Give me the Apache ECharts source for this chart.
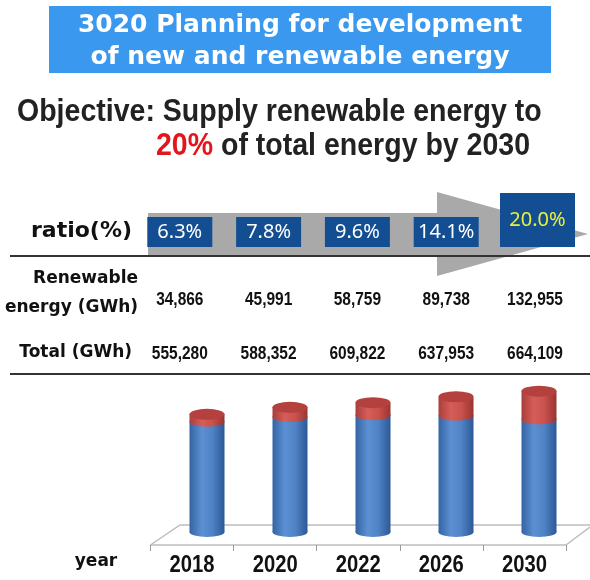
<!DOCTYPE html>
<html>
<head>
<meta charset="utf-8">
<script src="https://cdn.jsdelivr.net/npm/echarts@6/dist/echarts.min.js"></script>
<style>html,body{margin:0;padding:0;background:#fff}#c{width:590px;height:580px}</style>
</head>
<body>
<div id="c"></div>
<script>
// ---- data ----
var years = ['2018', '2020', '2022', '2026', '2030'];
var ratios = [6.3, 7.8, 9.6, 14.1, 20.0];
var renewable = [34866, 45991, 58759, 89738, 132955];
var total = [555280, 588352, 609822, 637953, 664109];

var nonRenewable = total.map(function (t, i) { return t - renewable[i]; });
function fmt(n) { return n.toLocaleString('en-US'); }

var SANS = '"Liberation Sans", Arial, sans-serif';
var HEAVY = '"DejaVu Sans", sans-serif';

var chart = echarts.init(document.getElementById('c'), null, { renderer: 'canvas' });

var blueGrad = new echarts.graphic.LinearGradient(0, 0, 1, 0, [
  { offset: 0, color: '#3363a3' },
  { offset: 0.35, color: '#5c90d2' },
  { offset: 0.65, color: '#4f83c5' },
  { offset: 1, color: '#2d5896' }
]);
var redGrad = new echarts.graphic.LinearGradient(0, 0, 1, 0, [
  { offset: 0, color: '#a83e3b' },
  { offset: 0.35, color: '#d65d58' },
  { offset: 0.65, color: '#c9524e' },
  { offset: 1, color: '#9a3431' }
]);

var BW = 35;

function condensedText(txt, x, y, font, fill, sx, align) {
  return {
    type: 'text', x: x, y: y, scaleX: sx, scaleY: 1,
    style: { text: txt, x: 0, y: 0, align: align || 'center', verticalAlign: 'middle', fill: fill, font: font }
  };
}

var option = {
  backgroundColor: '#ffffff',
  animation: false,
  grid: [
    { left: 165.5, right: 9.5, top: 383.6, bottom: 48 },
    { left: 150.5, right: 24, top: 500, bottom: 35 },
    { left: 135.4, right: 10.6, top: 190, bottom: 200 }
  ],
  xAxis: [
    { type: 'category', gridIndex: 0, data: years, show: false },
    {
      type: 'category', gridIndex: 1, data: years,
      axisLine: { show: true, lineStyle: { color: '#bdbdbd', width: 1.5 } },
      axisTick: { show: true, length: 6, lineStyle: { color: '#9a9a9a' } },
      axisLabel: { show: false }
    },
    { type: 'category', gridIndex: 2, data: years, show: false }
  ],
  yAxis: [
    { type: 'value', gridIndex: 0, min: 0, max: 700000, show: false },
    { type: 'value', gridIndex: 1, min: 0, max: 1, show: false },
    { type: 'value', gridIndex: 2, min: 0, max: 1, show: false }
  ],
  graphic: [
    { type: 'rect', shape: { x: 49, y: 6, width: 502, height: 67 }, style: { fill: '#3a98ee' }, z: 0 },
    { type: 'text', style: { text: '3020 Planning for development', x: 300, y: 25, align: 'center', verticalAlign: 'middle', fill: '#fff', font: 'bold 25px ' + HEAVY }, z: 1 },
    { type: 'text', style: { text: 'of new and renewable energy', x: 300, y: 57, align: 'center', verticalAlign: 'middle', fill: '#fff', font: 'bold 25px ' + HEAVY }, z: 1 },
    { type: 'text', x: 17, y: 112, scaleX: 0.92, style: { text: 'Objective: Supply renewable energy to', x: 0, y: 0, align: 'left', verticalAlign: 'middle', fill: '#222', font: 'bold 31px ' + SANS }, z: 1 },
    { type: 'text', x: 156, y: 146, scaleX: 0.92, style: { text: '20%', x: 0, y: 0, align: 'left', verticalAlign: 'middle', fill: '#e3161d', font: 'bold 31px ' + SANS }, z: 1 },
    { type: 'text', x: 221, y: 146, scaleX: 0.92, style: { text: 'of total energy by 2030', x: 0, y: 0, align: 'left', verticalAlign: 'middle', fill: '#222', font: 'bold 31px ' + SANS }, z: 1 },
    // arrow
    { type: 'polygon', shape: { points: [[148, 213], [437, 213], [437, 192], [588, 234], [437, 276], [437, 256], [148, 256]] }, style: { fill: '#a9a9a9' }, z: 0 },
    { type: 'line', shape: { x1: 10, y1: 256, x2: 590, y2: 256 }, style: { stroke: '#333', lineWidth: 2 }, z: 2 },
    { type: 'line', shape: { x1: 10, y1: 374, x2: 590, y2: 374 }, style: { stroke: '#333', lineWidth: 2 }, z: 2 },
    // row labels
    { type: 'text', style: { text: 'ratio(%)', x: 132, y: 231, align: 'right', verticalAlign: 'middle', fill: '#111', font: 'bold 22px ' + HEAVY }, z: 3 },
    { type: 'text', style: { text: 'Renewable', x: 138, y: 279, align: 'right', verticalAlign: 'middle', fill: '#111', font: 'bold 17px ' + HEAVY }, z: 3 },
    { type: 'text', style: { text: 'energy (GWh)', x: 138, y: 308, align: 'right', verticalAlign: 'middle', fill: '#111', font: 'bold 17px ' + HEAVY }, z: 3 },
    { type: 'text', style: { text: 'Total (GWh)', x: 132, y: 353, align: 'right', verticalAlign: 'middle', fill: '#111', font: 'bold 17px ' + HEAVY }, z: 3 },
    { type: 'text', style: { text: 'year', x: 96, y: 562, align: 'center', verticalAlign: 'middle', fill: '#111', font: 'bold 17px ' + HEAVY }, z: 3 },
    // floor back edges
    { type: 'polyline', shape: { points: [[150.5, 545], [180, 525], [590, 525]] }, style: { stroke: '#bdbdbd', lineWidth: 1.5, fill: null }, z: 0 },
    { type: 'line', shape: { x1: 566, y1: 545, x2: 590, y2: 527 }, style: { stroke: '#bdbdbd', lineWidth: 1.5 }, z: 0 }
  ],
  series: [
    {
      type: 'custom', xAxisIndex: 2, yAxisIndex: 2, z: 5,
      data: years.map(function (y, i) { return [i, 0]; }),
      renderItem: function (params, api) {
        var i = params.dataIndex;
        var cx = api.coord([api.value(0), 0])[0];
        var last = i === years.length - 1;
        var box = last ? { x: 500, y: 193, w: 75, h: 54, ty: 220 } : { x: cx - 32.5, y: 217, w: 65, h: 30, ty: 232 };
        return {
          type: 'group',
          children: [
            { type: 'rect', shape: { x: box.x, y: box.y, width: box.w, height: box.h }, style: { fill: '#124e91' } },
            { type: 'text', style: { text: ratios[i].toFixed(1) + '%', x: box.x + box.w / 2, y: box.ty, align: 'center', verticalAlign: 'middle', fill: last ? '#e8f03a' : '#ffffff', font: '20px "Noto Sans", sans-serif' } },
            condensedText(fmt(renewable[i]), cx, 300, 'bold 18px ' + SANS, '#111', 0.86),
            condensedText(fmt(total[i]), cx, 354, 'bold 18px ' + SANS, '#111', 0.86)
          ]
        };
      }
    },
    {
      type: 'custom', xAxisIndex: 1, yAxisIndex: 1, z: 5,
      data: years.map(function (y, i) { return [i, 0]; }),
      renderItem: function (params, api) {
        var p = api.coord([api.value(0), 0]);
        return condensedText(years[params.dataIndex], p[0], p[1] + 21, 'bold 23px ' + SANS, '#111', 0.88);
      }
    },
    {
      name: 'non-renewable', type: 'bar', stack: 'e', barWidth: BW, z: 2,
      xAxisIndex: 0, yAxisIndex: 0, data: nonRenewable,
      itemStyle: { color: blueGrad }
    },
    {
      name: 'renewable', type: 'bar', stack: 'e', barWidth: BW, z: 2,
      xAxisIndex: 0, yAxisIndex: 0, data: renewable,
      itemStyle: { color: redGrad }
    },
    {
      type: 'pictorialBar', symbol: 'circle', symbolSize: [BW, 10], symbolOffset: [0, '50%'], z: 1,
      xAxisIndex: 0, yAxisIndex: 0, data: nonRenewable,
      itemStyle: { color: blueGrad }
    },
    {
      type: 'pictorialBar', symbol: 'circle', symbolSize: [BW, 10], symbolPosition: 'end', symbolOffset: [0, '-50%'], z: 3,
      xAxisIndex: 0, yAxisIndex: 0, data: nonRenewable,
      itemStyle: { color: redGrad }
    },
    {
      type: 'pictorialBar', symbol: 'circle', symbolSize: [BW, 11], symbolPosition: 'end', symbolOffset: [0, '-50%'], z: 4,
      xAxisIndex: 0, yAxisIndex: 0, data: total,
      itemStyle: { color: '#b4413e' }
    }
  ]
};
chart.setOption(option);
</script>
</body>
</html>
